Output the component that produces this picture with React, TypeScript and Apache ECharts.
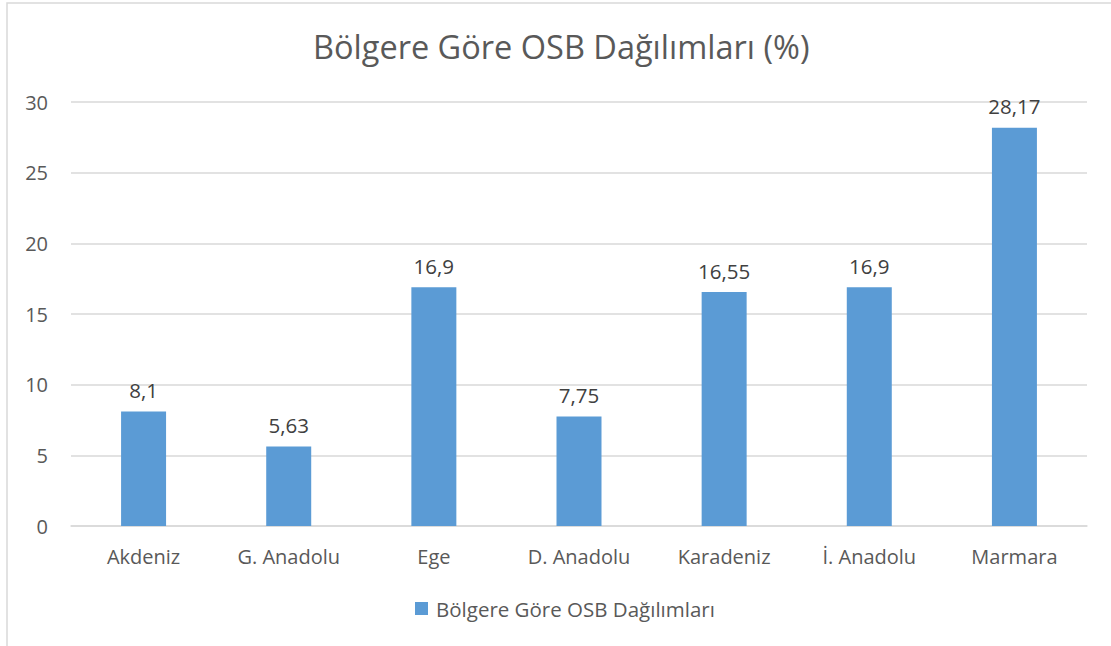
import React, { useEffect, useRef } from "react";
import * as echarts from "echarts";

const categories = ["Akdeniz", "G. Anadolu", "Ege", "D. Anadolu", "Karadeniz", "İ. Anadolu", "Marmara"];
const values = [8.1, 5.63, 16.9, 7.75, 16.55, 16.9, 28.17];
const seriesName = "Bölgere Göre OSB Dağılımları";
const titleText = "Bölgere Göre OSB Dağılımları (%)";

const FONT = "'Open Sans', sans-serif";
const TEXT = "#595959";

export default function App() {
  const ref = useRef<HTMLDivElement>(null);
  useEffect(() => {
    document.body.style.margin = "0";
    const chart = echarts.init(ref.current!, null, { renderer: "svg" });
    chart.setOption({
      animation: false,
      backgroundColor: "#ffffff",
      textStyle: { fontFamily: FONT },
      title: {
        text: titleText,
        left: 308,
        top: 25,
        textStyle: { fontFamily: FONT, fontSize: 32.5, fontWeight: "normal", color: TEXT },
      },
      legend: {
        bottom: 22,
        left: 410,
        itemWidth: 13,
        itemHeight: 13,
        icon: "rect",
        itemGap: 8,
        textStyle: { fontFamily: FONT, fontSize: 20.5, color: TEXT, padding: [0, 0, 0, 3] },
        data: [seriesName],
      },
      grid: { left: 71, right: 24, top: 102, bottom: 120 },
      xAxis: {
        type: "category",
        data: categories,
        axisLine: { lineStyle: { color: "#D9D9D9", width: 1.5 } },
        axisTick: { show: false },
        axisLabel: { color: TEXT, fontFamily: FONT, fontSize: 20, margin: 20 },
      },
      yAxis: {
        type: "value",
        min: 0,
        max: 30,
        interval: 5,
        axisLine: { show: false },
        axisTick: { show: false },
        splitLine: { lineStyle: { color: "#D9D9D9", width: 1.5 } },
        axisLabel: { color: TEXT, fontFamily: FONT, fontSize: 20, margin: 23 },
      },
      graphic: [
        {
          type: "rect",
          shape: { x: 7, y: 3, width: 1200, height: 800 },
          style: { fill: "none", stroke: "#D9D9D9", lineWidth: 1.5 },
          silent: true,
        },
      ],
      series: [
        {
          name: seriesName,
          type: "bar",
          data: values,
          barWidth: "31%",
          itemStyle: { color: "#5B9BD5" },
          label: {
            show: true,
            position: "top",
            distance: 11,
            color: "#404040",
            fontFamily: FONT,
            fontSize: 20.5,
            formatter: (p: any) => String(p.value).replace(".", ","),
          },
        },
      ],
    });
    return () => chart.dispose();
  }, []);
  return <div ref={ref} style={{ width: 1111, height: 646 }} />;
}
